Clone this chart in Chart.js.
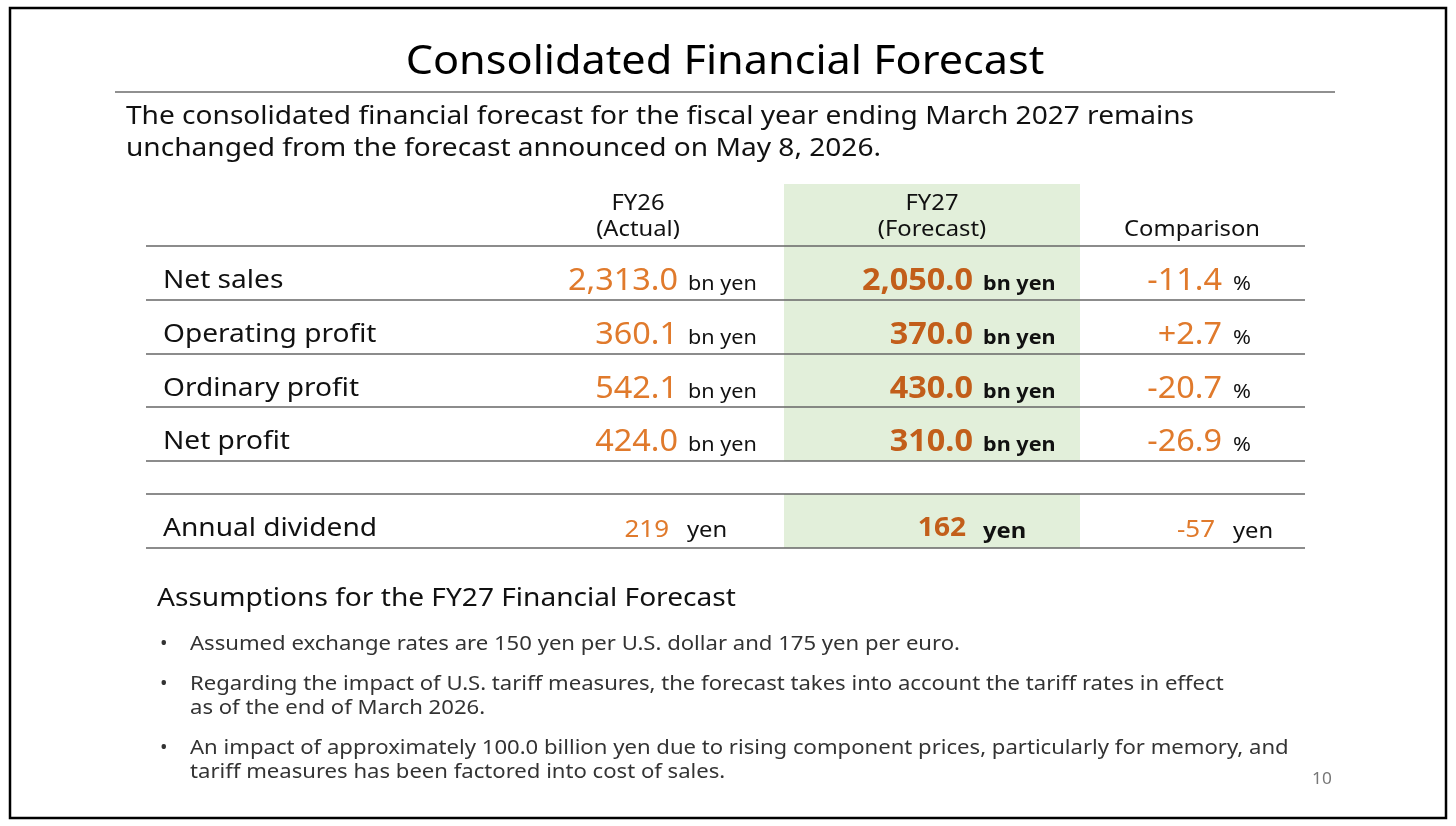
<!DOCTYPE html>
<html><head><meta charset="utf-8">
<script src="https://cdn.jsdelivr.net/npm/chart.js@4"></script>
<style>html,body{margin:0;padding:0;background:#fff;overflow:hidden}canvas{display:block}</style>
</head><body>
<canvas id="c" width="1456" height="826"></canvas>
<script>
const title = "Consolidated Financial Forecast";
const subtitle = ["The consolidated financial forecast for the fiscal year ending March 2027 remains","unchanged from the forecast announced on May 8, 2026."];
const rowLabels = ["Net sales","Operating profit","Ordinary profit","Net profit"];
const fy26 = [2313.0, 360.1, 542.1, 424.0];
const fy27 = [2050.0, 370.0, 430.0, 310.0];
const comparison = [-11.4, 2.7, -20.7, -26.9];
const dividendLabel = "Annual dividend";
const dividend = {fy26: 219, fy27: 162, diff: -57};
const assumptionsTitle = "Assumptions for the FY27 Financial Forecast";
const assumptions = [
 ["Assumed exchange rates are 150 yen per U.S. dollar and 175 yen per euro."],
 ["Regarding the impact of U.S. tariff measures, the forecast takes into account the tariff rates in effect","as of the end of March 2026."],
 ["An impact of approximately 100.0 billion yen due to rising component prices, particularly for memory, and","tariff measures has been factored into cost of sales."]
];
const F = '"Noto Sans", "Open Sans", sans-serif';
const fmt = v => v.toLocaleString('en-US',{minimumFractionDigits:1,maximumFractionDigits:1});
const sgn = v => (v>0?'+':'')+v.toFixed(1);

const slide = {
 id:'slide',
 afterDraw(ch){
  const c=ch.ctx, X=v=>ch.scales.x.getPixelForValue(v), Y=v=>ch.scales.y.getPixelForValue(v);
  const txt=(s,x,y,size,col,align,bold,sx)=>{
   sx=sx||1.08;
   c.save();c.translate(X(x),Y(y));c.scale(sx,1);
   c.font=(bold?'bold ':'')+size+'px '+F;c.fillStyle=col;c.textAlign=align||'left';c.textBaseline='alphabetic';c.fillText(s,0,0);
   c.restore();
  };
  const hl=(x1,x2,y,col,w)=>{c.strokeStyle=col;c.lineWidth=w||1.3;c.beginPath();c.moveTo(X(x1),Y(y));c.lineTo(X(x2),Y(y));c.stroke();};
  c.save();
  c.fillStyle='#fff';c.fillRect(0,0,1456,826);
  c.strokeStyle='#000';c.lineWidth=2.5;c.strokeRect(X(10),Y(8),X(1446)-X(10),Y(818)-Y(8));
  txt(title,725,74,40,'#000','center');
  hl(115,1335,92,'#222',1.2);
  txt(subtitle[0],126,124,26,'#111');
  txt(subtitle[1],126,156,26,'#111');
  c.fillStyle='#e2efda';c.fillRect(X(784),Y(184),X(1080)-X(784),Y(461)-Y(184));
  c.fillRect(X(784),Y(494),X(1080)-X(784),Y(548)-Y(494));
  txt('FY26',638,210,22,'#111','center');txt('(Actual)',638,236,22,'#111','center');
  txt('FY27',932,210,22,'#111','center');txt('(Forecast)',932,236,22,'#111','center');
  txt('Comparison',1192,236,22,'#111','center');
  [246,300,354,407,461,494,548].forEach(y=>hl(146,1305,y,'#666',1.3));
  const orange='#e07a2c', dark='#c25e1a';
  rowLabels.forEach((l,i)=>{
   const base=288+i*53.8;
   txt(l,163,base,26,'#111');
   txt(fmt(fy26[i]),678,base+2,30,orange,'right');
   txt('bn yen',688,base+2,20,'#111');
   txt(fmt(fy27[i]),973,base+2,30,dark,'right',true);
   txt('bn yen',983,base+2,20,'#111','left',true);
   txt(sgn(comparison[i]),1222,base+2,30,orange,'right');
   txt('%',1233,base+2,20,'#111');
  });
  txt(dividendLabel,163,536,26,'#111');
  txt(String(dividend.fy26),669,537,24,orange,'right');
  txt('yen',687,537,22,'#111');
  txt(String(dividend.fy27),966,536,26,dark,'right',true);
  txt('yen',983,538,22,'#111','left',true);
  txt(String(dividend.diff),1215,537,24,orange,'right');
  txt('yen',1233,538,22,'#111');
  txt(assumptionsTitle,157,606,26,'#111');
  let y=650;
  assumptions.forEach(a=>{
   txt('•',160,y,20,'#333','left',false,1);
   a.forEach((s,j)=>{txt(s,190,y+j*24,20,'#333','left',false,1.105);});
   y+=a.length*24+16;
  });
  txt('10',1322,784,16,'#777','center');
  c.restore();
 }
};
new Chart(document.getElementById('c'),{
 type:'scatter',
 data:{datasets:[{data:[]}]},
 options:{responsive:false,animation:false,devicePixelRatio:1,layout:{padding:0},
  plugins:{legend:{display:false},tooltip:{enabled:false}},
  scales:{x:{type:'linear',min:0,max:1456,display:false},y:{type:'linear',min:0,max:826,reverse:true,display:false}}},
 plugins:[slide]
});
</script>
</body></html>
